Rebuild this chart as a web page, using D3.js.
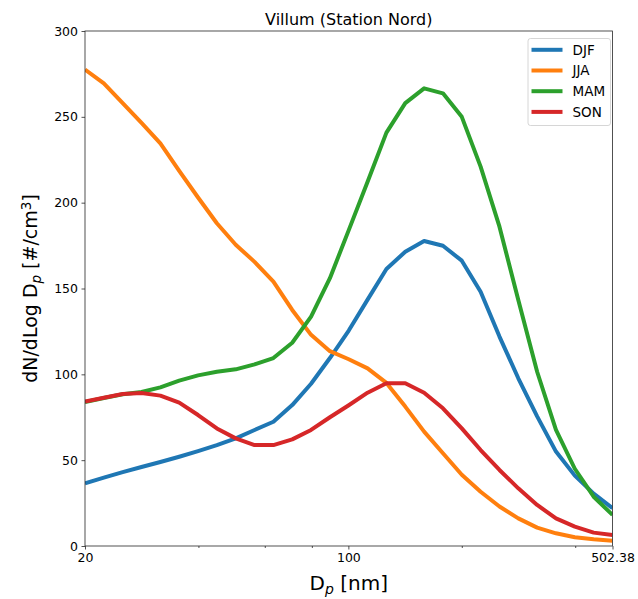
<!DOCTYPE html>
<html>
<head>
<meta charset="utf-8">
<script src="https://cdn.jsdelivr.net/npm/d3@7"></script>
<style>
  html, body { margin: 0; padding: 0; background: #fff; }
  svg { display: block; font-family: "DejaVu Sans", sans-serif; }
</style>
</head>
<body>
<svg id="chart" width="638" height="599"></svg>
<script>
// Particle diameter bins [nm]: 20 * 10^(0.05 k), k = 0..28
const diameters = [20.00, 22.44, 25.18, 28.25, 31.70, 35.57, 39.91, 44.77, 50.24, 56.37,
  63.25, 70.96, 79.62, 89.34, 100.24, 112.47, 126.19, 141.59, 158.87, 178.25,
  200.00, 224.40, 251.79, 282.51, 316.98, 355.66, 399.05, 447.75, 502.38];

const seasons = ["DJF", "JJA", "MAM", "SON"];
const seasonColors = ["#1f77b4", "#ff7f0e", "#2ca02c", "#d62728"];

// Mean number size distributions dN/dlogDp [#/cm3]
const djf = [36.5, 39.8, 43.0, 46.0, 48.9, 52.0, 55.3, 58.8, 62.7, 67.6,
  72.4, 82.1, 94.5, 109.5, 125.5, 143.5, 161.4, 171.4, 177.7, 174.9,
  166.2, 148.1, 122.0, 97.7, 75.5, 55.0, 41.0, 30.5, 22.0];
const jja = [277.5, 269.5, 258.0, 246.5, 234.5, 218.5, 203.0, 188.0, 175.5, 165.5,
  154.0, 137.5, 123.0, 113.5, 108.8, 103.5, 95.0, 81.2, 66.6, 54.0,
  41.5, 31.6, 23.0, 16.1, 10.7, 7.4, 5.1, 3.9, 3.1];
const mam = [83.8, 86.2, 88.4, 89.7, 92.4, 96.3, 99.4, 101.5, 102.9, 105.8,
  109.5, 118.4, 133.6, 156.0, 184.0, 212.2, 240.8, 258.0, 266.6, 263.7,
  250.0, 221.0, 186.0, 143.3, 101.5, 67.6, 45.0, 28.7, 18.1];
const son = [84.2, 86.4, 88.5, 89.1, 87.6, 83.5, 76.3, 68.5, 62.7, 58.8,
  58.8, 62.1, 67.6, 75.0, 82.0, 89.3, 94.8, 94.8, 89.3, 80.2,
  68.5, 55.9, 44.3, 33.6, 23.9, 16.1, 11.3, 7.8, 6.4];
const seriesValues = [djf, jja, mam, son];

const xTickValues = [20, 100, 502.38];
const xTickLabels = ["20", "100", "502.38"];
const xMinorTicks = [40, 60, 80, 200, 400];
const yTickValues = [0, 50, 100, 150, 200, 250, 300];

const svg = d3.select("#chart");
const margin = { left: 85, right: 25.5, top: 31, bottom: 53 };
const W = 638, H = 599;
const plotW = W - margin.left - margin.right;
const plotH = H - margin.top - margin.bottom;

const x = d3.scaleLog().domain([20, 502.38]).range([0, plotW]);
const y = d3.scaleLinear().domain([0, 300]).range([plotH, 0]);

const g = svg.append("g").attr("transform", `translate(${margin.left},${margin.top})`);

// Lines
const line = d3.line()
  .x((d, i) => x(diameters[i]))
  .y(d => y(d));

g.append("clipPath").attr("id", "plot-clip")
  .append("rect").attr("x", 0).attr("y", 0).attr("width", plotW).attr("height", plotH);

const lines = g.append("g").attr("clip-path", "url(#plot-clip)");
seriesValues.forEach((vals, i) => {
  lines.append("path")
    .datum(vals)
    .attr("d", line)
    .attr("fill", "none")
    .attr("stroke", seasonColors[i])
    .attr("stroke-width", 4)
    .attr("stroke-linejoin", "round")
    .attr("stroke-linecap", "butt");
});

// Axes
const axisColor = "#262626";
const xAxis = d3.axisBottom(x)
  .tickValues(xTickValues)
  .tickFormat((d, i) => xTickLabels[i])
  .tickSize(3.5).tickPadding(3.5);
const xg = g.append("g").attr("transform", `translate(0,${plotH})`).call(xAxis);

const xMinor = d3.axisBottom(x).tickValues(xMinorTicks).tickFormat("").tickSize(2);
const xmg = g.append("g").attr("transform", `translate(0,${plotH})`).call(xMinor);

const yAxis = d3.axisLeft(y).tickValues(yTickValues).tickSize(3.5).tickPadding(3.5);
const yg = g.append("g").call(yAxis);

[xg, xmg, yg].forEach(a => {
  a.select(".domain").remove();
  a.selectAll("line").attr("stroke", axisColor).attr("stroke-width", 0.8);
  a.selectAll("text").attr("fill", "#000").style("font-size", "12.5px")
    .style("font-family", "DejaVu Sans, sans-serif");
});

// Frame
g.append("rect")
  .attr("x", 0).attr("y", 0).attr("width", plotW).attr("height", plotH)
  .attr("fill", "none").attr("stroke", axisColor).attr("stroke-width", 0.8);

// Title
svg.append("text")
  .attr("x", margin.left + plotW / 2).attr("y", 24.5)
  .attr("text-anchor", "middle")
  .style("font-size", "16px")
  .text("Villum (Station Nord)");

// X axis label: D_p [nm]
const xl = svg.append("text")
  .attr("x", margin.left + plotW / 2).attr("y", 590)
  .attr("text-anchor", "middle")
  .style("font-size", "20px");
xl.append("tspan").text("D");
xl.append("tspan").attr("baseline-shift", "-25%").style("font-size", "14px").style("font-style", "italic").text("p");
xl.append("tspan").text(" [nm]");

// Y axis label: dN/dLog D_p [#/cm^3]
const yl = svg.append("text")
  .attr("transform", `translate(37,${margin.top + plotH / 2}) rotate(-90)`)
  .attr("text-anchor", "middle")
  .style("font-size", "19px");
yl.append("tspan").text("dN/dLog D");
yl.append("tspan").attr("baseline-shift", "-25%").style("font-size", "13.5px").style("font-style", "italic").text("p");
yl.append("tspan").text(" [#/cm");
yl.append("tspan").attr("baseline-shift", "40%").style("font-size", "13.5px").text("3");
yl.append("tspan").text("]");

// Legend
const legend = svg.append("g").attr("transform", "translate(528,38.5)");
legend.append("rect")
  .attr("x", 0).attr("y", 0).attr("width", 82.5).attr("height", 87)
  .attr("rx", 2.5)
  .attr("fill", "#fff").attr("fill-opacity", 0.8)
  .attr("stroke", "#cccccc").attr("stroke-width", 0.8);
seasons.forEach((s, i) => {
  const yy = 11.3 + i * 20.7;
  legend.append("line")
    .attr("x1", 3.5).attr("x2", 34.5).attr("y1", yy).attr("y2", yy)
    .attr("stroke", seasonColors[i]).attr("stroke-width", 4);
  legend.append("text")
    .attr("x", 44.5).attr("y", yy + 4.8)
    .style("font-size", "13.5px")
    .text(s);
});
</script>
</body>
</html>
